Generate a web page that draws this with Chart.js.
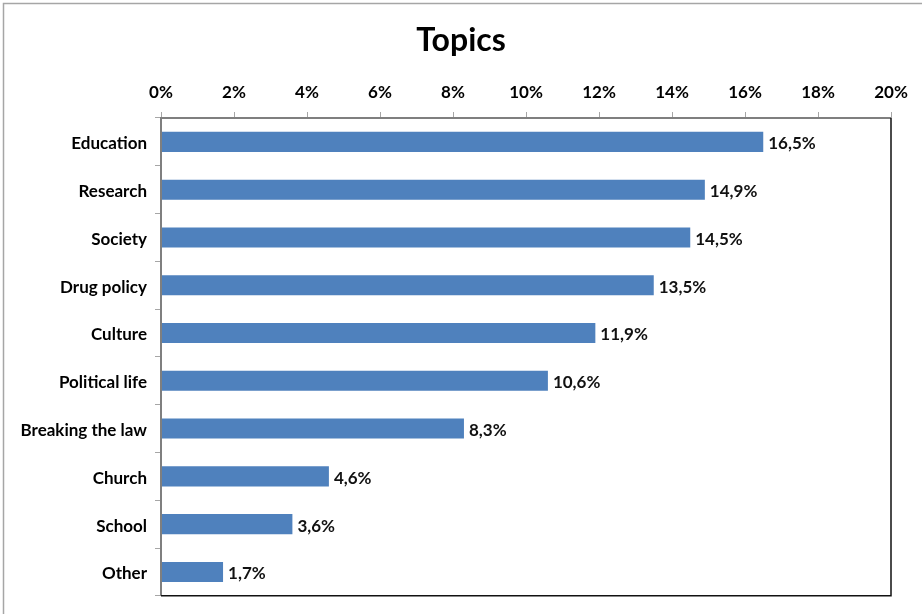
<!DOCTYPE html>
<html>
<head>
<meta charset="utf-8">
<script src="https://cdn.jsdelivr.net/npm/chart.js@4/dist/chart.umd.min.js"></script>
<style>
  html, body { margin: 0; padding: 0; background: #fff; }
  #wrap { width: 922px; height: 614px; position: relative; }
</style>
</head>
<body>
<div id="wrap"><canvas id="chart"></canvas></div>
<script>
// Dados
const categories = ["Education", "Research", "Society", "Drug policy", "Culture",
  "Political life", "Breaking the law", "Church", "School", "Other"];
const values = [16.5, 14.9, 14.5, 13.5, 11.9, 10.6, 8.3, 4.6, 3.6, 1.7];
const xTicks = [0, 2, 4, 6, 8, 10, 12, 14, 16, 18, 20];
const chartTitle = "Topics";

const fontFamily = "Lato, 'Open Sans', sans-serif";

// título, rótulos de valor e bordas
const extras = {
  id: "extras",
  afterDatasetsDraw(chart) {
    const ctx = chart.ctx;
    const meta = chart.getDatasetMeta(0);
    ctx.save();
    ctx.font = "bold 17px " + fontFamily;
    ctx.fillStyle = "#111";
    ctx.textAlign = "left";
    ctx.textBaseline = "middle";
    meta.data.forEach((bar, i) => {
      ctx.fillText(values[i].toFixed(1).replace(".", ",") + "%", bar.x + 5, bar.y + 2);
    });
    ctx.restore();
  },
  afterDraw(chart) {
    const ctx = chart.ctx;
    const a = chart.chartArea;
    ctx.save();
    // título
    ctx.font = "bold 32px " + fontFamily;
    ctx.fillStyle = "#000";
    ctx.textAlign = "center";
    ctx.textBaseline = "middle";
    ctx.fillText(chartTitle, chart.width / 2, 41);
    // borda da área do gráfico
    ctx.strokeStyle = "#7f7f7f";
    ctx.lineWidth = 2;
    ctx.beginPath();
    ctx.moveTo(a.left, a.bottom);
    ctx.lineTo(a.left, a.top);
    ctx.lineTo(a.right, a.top);
    ctx.stroke();
    ctx.strokeStyle = "#111";
    ctx.lineWidth = 1.5;
    ctx.beginPath();
    ctx.moveTo(a.right, a.top);
    ctx.lineTo(a.right, a.bottom);
    ctx.lineTo(a.left, a.bottom);
    ctx.stroke();
    // borda externa
    ctx.strokeStyle = "#a6a6a6";
    ctx.lineWidth = 1.5;
    ctx.beginPath();
    ctx.moveTo(3.5, 620);
    ctx.lineTo(3.5, 3.5);
    ctx.lineTo(930, 3.5);
    ctx.stroke();
    ctx.restore();
  }
};

const ctx = document.getElementById("chart").getContext("2d");
const chart = new Chart(ctx, {
  type: "bar",
  data: {
    labels: categories,
    datasets: [{
      data: values,
      backgroundColor: "#4f81bd",
      borderWidth: 0,
      barPercentage: 0.42,
      categoryPercentage: 1,
    }],
  },
  options: {
    indexAxis: "y",
    responsive: true,
    maintainAspectRatio: false,
    animation: false,
    layout: { padding: { left: 0, right: 31, top: 67, bottom: 12 } },
    plugins: {
      legend: { display: false },
      tooltip: { enabled: false },
      title: { display: false },
    },
    scales: {
      x: {
        position: "top",
        min: 0,
        max: 20,
        afterBuildTicks(axis) {
          axis.ticks = xTicks.map(v => ({ value: v }));
        },
        afterFit(axis) { axis.height = 51; },
        grid: { drawOnChartArea: false, drawTicks: true, tickLength: 6, color: "#a6a6a6" },
        border: { display: false },
        ticks: {
          padding: 9,
          color: "#000",
          font: { family: fontFamily, size: 17, weight: "bold" },
          callback: v => v + "%",
        },
      },
      y: {
        afterFit(axis) { axis.width = 161; },
        grid: { drawOnChartArea: false, drawTicks: true, tickLength: 6, offset: true, color: "#a6a6a6" },
        border: { display: false },
        ticks: {
          padding: 8,
          labelOffset: 2,
          color: "#000",
          font: { family: fontFamily, size: 17, weight: "bold" },
        },
      },
    },
  },
  plugins: [extras],
});
</script>
</body>
</html>
